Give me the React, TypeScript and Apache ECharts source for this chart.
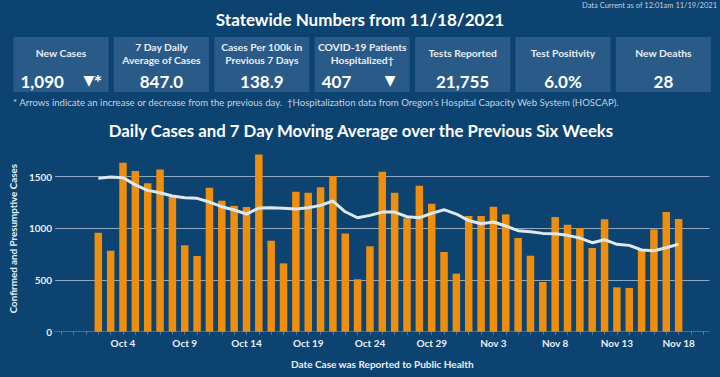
import React, { useEffect, useRef } from 'react';
import * as echarts from 'echarts';

const categories = [
  'Sep 29', 'Sep 30', 'Oct 1', 'Oct 2', 'Oct 3', 'Oct 4', 'Oct 5', 'Oct 6', 'Oct 7', 'Oct 8',
  'Oct 9', 'Oct 10', 'Oct 11', 'Oct 12', 'Oct 13', 'Oct 14', 'Oct 15', 'Oct 16', 'Oct 17', 'Oct 18',
  'Oct 19', 'Oct 20', 'Oct 21', 'Oct 22', 'Oct 23', 'Oct 24', 'Oct 25', 'Oct 26', 'Oct 27', 'Oct 28',
  'Oct 29', 'Oct 30', 'Oct 31', 'Nov 1', 'Nov 2', 'Nov 3', 'Nov 4', 'Nov 5', 'Nov 6', 'Nov 7',
  'Nov 8', 'Nov 9', 'Nov 10', 'Nov 11', 'Nov 12', 'Nov 13', 'Nov 14', 'Nov 15', 'Nov 16', 'Nov 17',
  'Nov 18', 'Nov 19', 'Nov 20',
];

const labeledDays = ['Oct 4', 'Oct 9', 'Oct 14', 'Oct 19', 'Oct 24', 'Oct 29', 'Nov 3', 'Nov 8', 'Nov 13', 'Nov 18'];

const dailyCases = [
  null, null, null,
  957, 783, 1634, 1554, 1435, 1570, 1306, 835, 732, 1393,
  1267, 1218, 1206, 1715, 880, 661, 1354, 1344, 1396, 1506,
  951, 507, 826, 1547, 1344, 1097, 1412, 1238, 771, 561,
  1119, 1119, 1209, 1135, 906, 735, 481, 1109, 1035, 1003,
  809, 1087, 429, 423, 790, 990, 1157, 1090,
  null, null,
];

const movingAverage = [
  null, null, null,
  1483, 1496, 1490, 1420, 1367, 1344, 1312, 1296, 1290, 1254,
  1209, 1177, 1138, 1196, 1199, 1193, 1187, 1199, 1222, 1264,
  1160, 1102, 1125, 1157, 1157, 1112, 1102, 1145, 1180, 1138,
  1075, 1044, 1061, 1022, 977, 967, 951, 948, 932, 906,
  861, 890, 845, 835, 790, 783, 812, 847,
  null, null,
];

const yTicks = [0, 500, 1000, 1500];

const statLabels = [
  'New Cases',
  '7 Day Daily\nAverage of Cases',
  'Cases Per 100k in\nPrevious 7 Days',
  'COVID-19 Patients\nHospitalized\u2020',
  'Tests Reported',
  'Test Positivity',
  'New Deaths',
];
const statValues = ['1,090', '847.0', '138.9', '407', '21,755', '6.0%', '28'];
const statArrows = ['\u25BC*', '', '', '\u25BC', '', '', ''];

const BG = '#0d4371';
const BOX = '#2a5a88';
const FONT = 'Lato, "Open Sans", sans-serif';

export default function App() {
  const ref = useRef<HTMLDivElement>(null);

  useEffect(() => {
    document.body.style.margin = '0';
    const chart = echarts.init(ref.current!, undefined, { renderer: 'svg' });

    const graphics: any[] = [];
    graphics.push({
      type: 'text',
      style: {
        text: 'Data Current as of 12:01am 11/19/2021',
        x: 717, y: 5, align: 'right', textAlign: 'right', verticalAlign: 'middle', textVerticalAlign: 'middle',
        fill: '#c3cfdb', fontSize: 7.5, fontFamily: FONT,
      },
    });
    graphics.push({
      type: 'text',
      style: {
        text: 'Statewide Numbers from 11/18/2021',
        x: 360, y: 19, align: 'center', textAlign: 'center', verticalAlign: 'middle', textVerticalAlign: 'middle',
        fill: '#ffffff', fontSize: 17, fontWeight: 'bold', fontFamily: FONT,
      },
    });
    for (let i = 0; i < statLabels.length; i++) {
      const left = 13.5 + i * 100.4;
      const cx = left + 47.5;
      graphics.push({
        type: 'rect',
        shape: { x: left, y: 37, width: 95, height: 55 },
        style: { fill: BOX },
      });
      graphics.push({
        type: 'text',
        style: {
          text: statLabels[i],
          x: cx, y: 53, align: 'center', textAlign: 'center', verticalAlign: 'middle', textVerticalAlign: 'middle',
          fill: '#e8eff6', fontSize: 10.3, fontWeight: 'bold', fontFamily: FONT, lineHeight: 13,
        },
      });
      if (statArrows[i]) {
        graphics.push({
          type: 'text',
          style: {
            text: statValues[i],
            x: left + 7, y: 81, align: 'left', textAlign: 'left', verticalAlign: 'middle', textVerticalAlign: 'middle',
            fill: '#ffffff', fontSize: 17, fontWeight: 'bold', fontFamily: FONT,
          },
        });
        graphics.push({
          type: 'text',
          style: {
            text: statArrows[i],
            x: left + 70, y: 80, align: 'left', textAlign: 'left', verticalAlign: 'middle', textVerticalAlign: 'middle',
            fill: '#ffffff', fontSize: 14, fontWeight: 'bold', fontFamily: '"DejaVu Sans", sans-serif',
          },
        });
      } else {
        graphics.push({
          type: 'text',
          style: {
            text: statValues[i],
            x: cx, y: 81, align: 'center', textAlign: 'center', verticalAlign: 'middle', textVerticalAlign: 'middle',
            fill: '#ffffff', fontSize: 17, fontWeight: 'bold', fontFamily: FONT,
          },
        });
      }
    }
    graphics.push({
      type: 'text',
      style: {
        text: '* Arrows indicate an increase or decrease from the previous day.  \u2020Hospitalization data from Oregon\u2019s Hospital Capacity Web System (HOSCAP).',
        x: 13, y: 102, align: 'left', textAlign: 'left', verticalAlign: 'middle', textVerticalAlign: 'middle',
        fill: '#c5d2df', fontSize: 9.6, fontFamily: FONT,
      },
    });
    graphics.push({
      type: 'text',
      style: {
        text: 'Daily Cases and 7 Day Moving Average over the Previous Six Weeks',
        x: 361, y: 130, align: 'center', textAlign: 'center', verticalAlign: 'middle', textVerticalAlign: 'middle',
        fill: '#ffffff', fontSize: 16.8, fontWeight: 'bold', fontFamily: FONT,
      },
    });

    chart.setOption({
      animation: false,
      backgroundColor: BG,
      textStyle: { fontFamily: FONT },
      graphic: graphics,
      grid: { left: 52.3, right: 720 - 709.5, top: 145.6, bottom: 377 - 331.7, containLabel: false },
      xAxis: {
        type: 'category',
        data: categories,
        boundaryGap: true,
        name: 'Date Case was Reported to Public Health',
        nameLocation: 'middle',
        nameGap: 27,
        nameTextStyle: { color: '#e8eff6', fontSize: 10, fontWeight: 'bold', fontFamily: FONT },
        axisLine: { show: true, lineStyle: { color: 'rgba(200,215,230,0.35)', width: 1, type: 'dotted' } },
        axisTick: { show: true, alignWithLabel: true, length: 3, interval: 0, lineStyle: { color: 'rgba(200,215,230,0.4)' } },
        axisLabel: {
          interval: (idx: number, val: string) => labeledDays.indexOf(val) >= 0,
          color: '#e8eff6', fontSize: 10, fontWeight: 'bold', fontFamily: FONT, margin: 6,
        },
        splitLine: { show: false },
      },
      yAxis: {
        type: 'value',
        min: 0,
        max: 1800,
        interval: 500,
        name: 'Confirmed and Presumptive Cases',
        nameLocation: 'middle',
        nameRotate: 90,
        nameGap: 28,
        nameTextStyle: { color: '#e8eff6', fontSize: 9.8, fontWeight: 'bold', fontFamily: FONT },
        axisLine: { show: false },
        axisTick: { show: false },
        axisLabel: {
          showMaxLabel: false,
          formatter: (v: number) => (yTicks.indexOf(v) >= 0 ? String(v) : ''),
          color: '#e8eff6', fontSize: 10, fontWeight: 'bold', fontFamily: FONT, margin: 3,
        },
        splitLine: { show: true, showMinLine: false, showMaxLine: false, lineStyle: { color: '#8fa9c3', width: 1 } },
      },
      series: [
        {
          type: 'bar',
          data: dailyCases,
          barWidth: 7.5,
          itemStyle: { color: '#ef8e0d' },
        },
        {
          type: 'line',
          data: movingAverage,
          showSymbol: false,
          symbol: 'none',
          lineStyle: { color: '#dde9ef', width: 3 },
          z: 5,
        },
      ],
    });

    return () => chart.dispose();
  }, []);

  return <div ref={ref} style={{ width: 720, height: 377 }} />;
}
